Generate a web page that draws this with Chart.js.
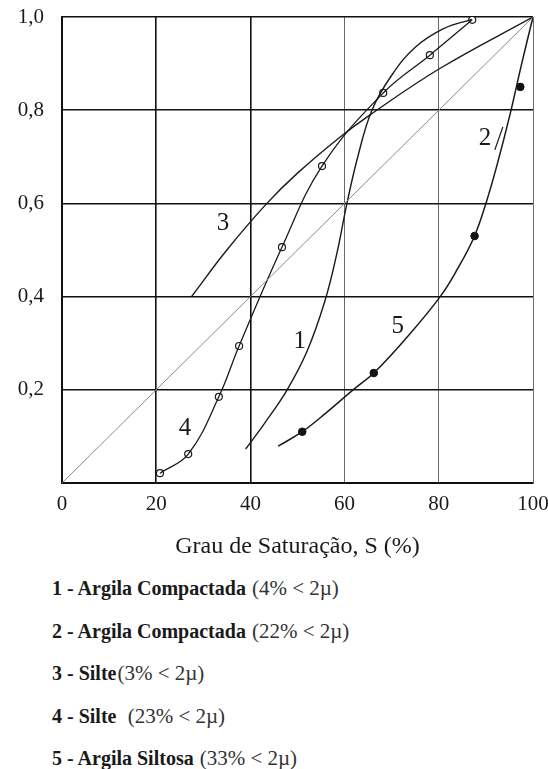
<!DOCTYPE html>
<html>
<head>
<meta charset="utf-8">
<script src="https://cdn.jsdelivr.net/npm/chart.js@4.4.0/dist/chart.umd.min.js"></script>
<style>
  html, body { margin: 0; padding: 0; background: #fff; }
  #wrap { position: relative; width: 548px; height: 769px; }
  #chart { position: absolute; left: 0; top: 0; }
  .leg { position: absolute; left: 52px; font-family: "Times New Roman", "Liberation Serif", "DejaVu Serif", serif; font-size: 20px; color: #1a1a1a; white-space: nowrap; line-height: 22px; }
  .leg b { font-weight: bold; }
  .leg span { font-size: 21px; color: #333; margin-left: 6px; }
  .leg span.tight { margin-left: 1px; }
</style>
</head>
<body>
<div id="wrap">
  <canvas id="chart" width="548" height="563"></canvas>
  <div class="leg" style="top:577px"><b>1 - Argila Compactada</b><span>(4% &lt; 2µ)</span></div>
  <div class="leg" style="top:620px"><b>2 - Argila Compactada</b><span>(22% &lt; 2µ)</span></div>
  <div class="leg" style="top:662px"><b>3 - Silte</b><span class="tight">(3% &lt; 2µ)</span></div>
  <div class="leg" style="top:705px"><b>4 - Silte</b><span>&nbsp;(23% &lt; 2µ)</span></div>
  <div class="leg" style="top:747px"><b>5 - Argila Siltosa</b><span>(33% &lt; 2µ)</span></div>
</div>
<script>
// grau de saturacao S (%) vs. ordinate
var xTicks = [0, 20, 40, 60, 80, 100];
var yTicks = [0.2, 0.4, 0.6, 0.8, 1.0];

// reference diagonal
var diagS = [0, 100];
var diagY = [0, 1];

// 1 - Argila Compactada (4% < 2u), no markers
var c1S = [39, 43, 47.8, 52, 55.8, 58.3, 60.5, 62.8, 65.8, 70, 75, 81, 87];
var c1Y = [0.073, 0.128, 0.2, 0.282, 0.39, 0.49, 0.6, 0.7, 0.8, 0.875, 0.935, 0.975, 0.995];

// 2 - Argila Compactada (22% < 2u), short segment next to the label
var c2S = [91.9, 93.6];
var c2Y = [0.715, 0.764];

// 3 - Silte (3% < 2u), no markers
var c3S = [27.5, 35, 43.5, 50, 59, 65.4, 80.3, 100];
var c3Y = [0.40, 0.50, 0.6, 0.665, 0.742, 0.79, 0.89, 1.0];

// 4 - Silte (23% < 2u), open circles
var c4S = [20.8, 26.8, 33.3, 37.6, 46.7, 55.2, 68.2, 78.1, 87.1];
var c4Y = [0.021, 0.062, 0.185, 0.294, 0.506, 0.68, 0.837, 0.918, 0.994];

// 5 - Argila Siltosa (33% < 2u), line and filled dots
var c5S = [45.9, 51, 56, 61.8, 66.2, 73, 80.3, 84, 87.5, 90, 92.3, 95.1, 97.6, 100];
var c5Y = [0.079, 0.11, 0.15, 0.2, 0.236, 0.31, 0.4, 0.46, 0.528, 0.6, 0.68, 0.79, 0.9, 1.0];
var m5S = [51, 66.2, 87.6, 97.3];
var m5Y = [0.11, 0.236, 0.53, 0.85];

// curve numbers written on the plot
var lblText = ['1', '2', '3', '4', '5'];
var lblS = [50.5, 89.8, 34.2, 26.1, 71.3];
var lblY = [0.303, 0.74, 0.558, 0.118, 0.335];

function pts(xs, ys) {
    return xs.map(function(x, i) { return {x: x, y: ys[i]}; });
}

function line(xs, ys, w) {
    return {
        data: pts(xs, ys),
        showLine: true,
        borderColor: '#1a1a1a',
        borderWidth: w,
        pointRadius: 0,
        tension: 0.4,
        fill: false
    };
}

var serif = '"Times New Roman", "Liberation Serif", "DejaVu Serif", serif';

var curveLabels = {
    id: 'curveLabels',
    afterDatasetsDraw: function(chart) {
        var ctx = chart.ctx;
        var xs = chart.scales.x, ys = chart.scales.y;
        ctx.save();
        ctx.fillStyle = '#1a1a1a';
        ctx.font = '25px ' + serif;
        ctx.textAlign = 'center';
        ctx.textBaseline = 'middle';
        lblText.forEach(function(t, i) {
            ctx.fillText(t, xs.getPixelForValue(lblS[i]), ys.getPixelForValue(lblY[i]));
        });
        ctx.restore();
    }
};

// keep the plot area where the layout padding puts it
function noPad(s) {
    s.paddingTop = 0; s.paddingBottom = 0; s.paddingLeft = 0; s.paddingRight = 0;
}

var diag = line(diagS, diagY, 1);
diag.borderColor = '#8a8a8a';
diag.tension = 0;

var dsets = [
    diag,
    line(c1S, c1Y, 1.4),
    line(c2S, c2Y, 1.2),
    line(c3S, c3Y, 1.4),
    line(c4S, c4Y, 1.3),
    line(c5S, c5Y, 1.5),
    {
        data: pts(c4S, c4Y),
        showLine: false,
        pointRadius: 3.5,
        pointBackgroundColor: '#fff',
        pointBorderColor: '#1a1a1a',
        pointBorderWidth: 1.2
    },
    {
        data: pts(m5S, m5Y),
        showLine: false,
        pointRadius: 3.8,
        pointBackgroundColor: '#111',
        pointBorderColor: '#111',
        pointBorderWidth: 1
    }
];

var ctx = document.getElementById('chart').getContext('2d');
var chart = new Chart(ctx, {
    type: 'scatter',
    data: { datasets: dsets },
    options: {
        responsive: false,
        animation: false,
        layout: { autoPadding: false, padding: { left: 0, right: 15, top: 17, bottom: 0 } },
        plugins: { legend: { display: false }, tooltip: { enabled: false } },
        scales: {
            x: {
                min: 0, max: 100,
                afterFit: function(s) { s.height = 80; noPad(s); },
                afterBuildTicks: function(s) { s.ticks = xTicks.map(function(v) { return {value: v}; }); },
                border: { display: true, color: '#111', width: 2 },
                grid: {
                    drawTicks: false,
                    color: function(c) { return c.tick && (c.tick.value == 60 || c.tick.value == 80 || c.tick.value == 100) ? '#6a6a6a' : '#111'; },
                    lineWidth: function(c) { return c.tick && (c.tick.value == 60 || c.tick.value == 80 || c.tick.value == 100) ? 1 : 1.6; }
                },
                ticks: { padding: 9, color: '#1a1a1a', font: { family: serif, size: 21 } },
                title: { display: true, text: 'Grau de Saturação, S (%)', color: '#1a1a1a', font: { family: serif, size: 24 }, padding: { top: 4, bottom: 2 } }
            },
            y: {
                min: 0, max: 1,
                afterFit: function(s) { s.width = 62; noPad(s); },
                afterBuildTicks: function(s) { s.ticks = [0].concat(yTicks).map(function(v) { return {value: v}; }); },
                border: { display: true, color: '#111', width: 2 },
                grid: { drawTicks: false, color: '#111', lineWidth: 1.6 },
                ticks: {
                    padding: 18,
                    color: '#1a1a1a',
                    font: { family: serif, size: 21 },
                    callback: function(v) { return v === 0 ? '' : v.toFixed(1).replace('.', ','); }
                }
            }
        }
    },
    plugins: [curveLabels]
});
</script>
</body>
</html>
